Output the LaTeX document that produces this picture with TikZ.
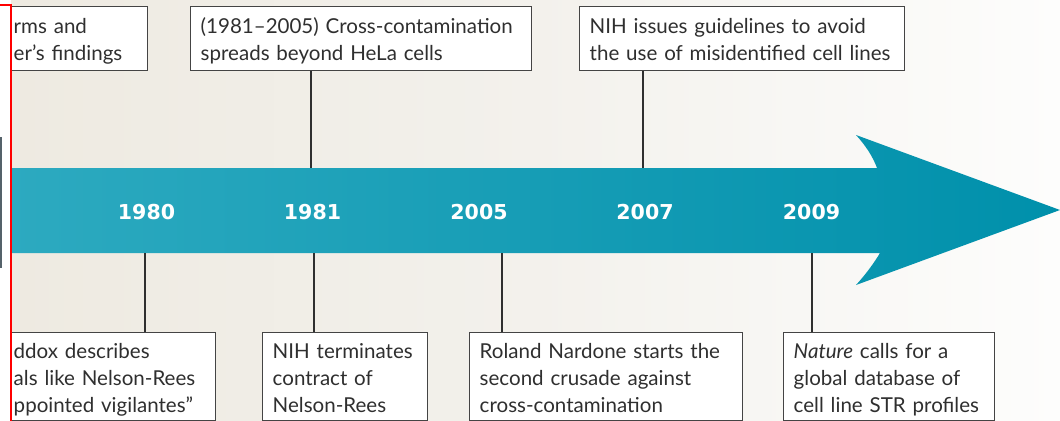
\documentclass[tikz,border=0pt]{standalone}
\usepackage{fontspec}
\setmainfont{Lato}
\newfontfamily\yearfont{DejaVu Sans}
\definecolor{bgL}{HTML}{EEEAE1}
\definecolor{bgM}{HTML}{F3F1EC}
\definecolor{bgR}{HTML}{FDFDFC}
\definecolor{arL}{HTML}{2DAAC0}
\definecolor{arM}{HTML}{0AA0BA}
\definecolor{arR}{HTML}{0090AB}
\definecolor{ink}{HTML}{2F2F2F}
\definecolor{frame}{HTML}{444444}
\definecolor{leftline}{HTML}{55626A}
\newcommand{\oneline}[1]{\mbox{#1}}
\tikzset{
  evbox/.style={draw=frame, line width=1.1pt, fill=white, text=ink,
    align=left, inner xsep=7.5pt, inner ysep=0pt,
    font=\fontsize{15.4}{20}\selectfont},
  topbox/.style={evbox, anchor=north west, text height=20.25pt, text depth=27.75pt},
  botbox/.style={evbox, anchor=north west, text height=19.5pt, text depth=46.5pt},
  yearlbl/.style={text=white, anchor=base, inner sep=0pt,
    font=\yearfont\bfseries\fontsize{15.4}{18}\selectfont},
  tick/.style={draw=ink, line width=1.1pt},
}
\begin{document}
\begin{tikzpicture}[x=0.75pt,y=-0.75pt]
\useasboundingbox (0,0) rectangle (1060,421);
% background
\fill[white] (0,0) rectangle (11,421);
\shade[left color=bgL, right color=bgR, middle color=bgM] (11,0) rectangle (1060,421);
\begin{scope}
\clip (11,0) rectangle (1060,421);
% arrow
\shade[left color=arL, middle color=arM, right color=arR]
  (0,168) -- (877,168) .. controls (873,157) and (866,146) .. (856,135)
  -- (1060,210) -- (856,285) .. controls (866,274) and (874,263) .. (880,253)
  -- (0,253) -- cycle;
% arrow edge points for connectors
\coordinate (t1981) at (311,168);
\coordinate (t2007) at (643,168);
\coordinate (b1980) at (145,253);
\coordinate (b1981) at (314,253);
\coordinate (b2005) at (502,253);
\coordinate (b2009) at (812,253);
% years
\node[yearlbl] (y1980) at (146.5,219) {1980};
\node[yearlbl] (y1981) at (312.5,219) {1981};
\node[yearlbl] (y2005) at (479,219) {2005};
\node[yearlbl] (y2007) at (645,219) {2007};
\node[yearlbl] (y2009) at (811.5,219) {2009};
% top boxes
\node[topbox, text width=93pt] (e1) at (3,6) {\oneline{rms and}\\\oneline{er’s findings}};
\node[topbox, text width=240.75pt] (e2) at (190,6) {\oneline{(1981–2005) Cross-contamination}\\\oneline{spreads beyond HeLa cells}};
\node[topbox, text width=228.75pt] (e3) at (579,6) {\oneline{NIH issues guidelines to avoid}\\\oneline{the use of misidentified cell lines}};
% bottom boxes
\node[botbox, text width=144pt] (e4) at (3,332) {\oneline{ddox describes}\\\oneline{als like Nelson-Rees}\\\oneline{ppointed vigilantes”}};
\node[botbox, text width=108.75pt] (e5) at (262,332) {\oneline{NIH terminates}\\\oneline{contract of}\\\oneline{Nelson-Rees}};
\node[botbox, text width=189.75pt] (e6) at (469,332) {\oneline{Roland Nardone starts the}\\\oneline{second crusade against}\\\oneline{cross-contamination}};
\node[botbox, text width=143.25pt] (e7) at (783,332) {\oneline{\textit{Nature} calls for a}\\\oneline{global database of}\\\oneline{cell line STR profiles}};
% connectors
\draw[tick] (e2.south -| t1981) -- (t1981);
\draw[tick] (e3.south -| t2007) -- (t2007);
\draw[tick] (b1980) -- (e4.north -| b1980);
\draw[tick] (b1981) -- (e5.north -| b1981);
\draw[tick] (b2005) -- (e6.north -| b2005);
\draw[tick] (b2009) -- (e7.north -| b2009);
\end{scope}
% left edge marks
\coordinate (g1) at (1,137);
\coordinate (g2) at (1,268);
\draw[leftline, line width=1.5pt] (g1) -- (g2);
\coordinate (r1) at (0,5);
\coordinate (r2) at (11,5);
\coordinate (r3) at (11,421);
\draw[red, line width=1.6pt] (r1) -- (r2) -- (r3);
\end{tikzpicture}
\end{document}
